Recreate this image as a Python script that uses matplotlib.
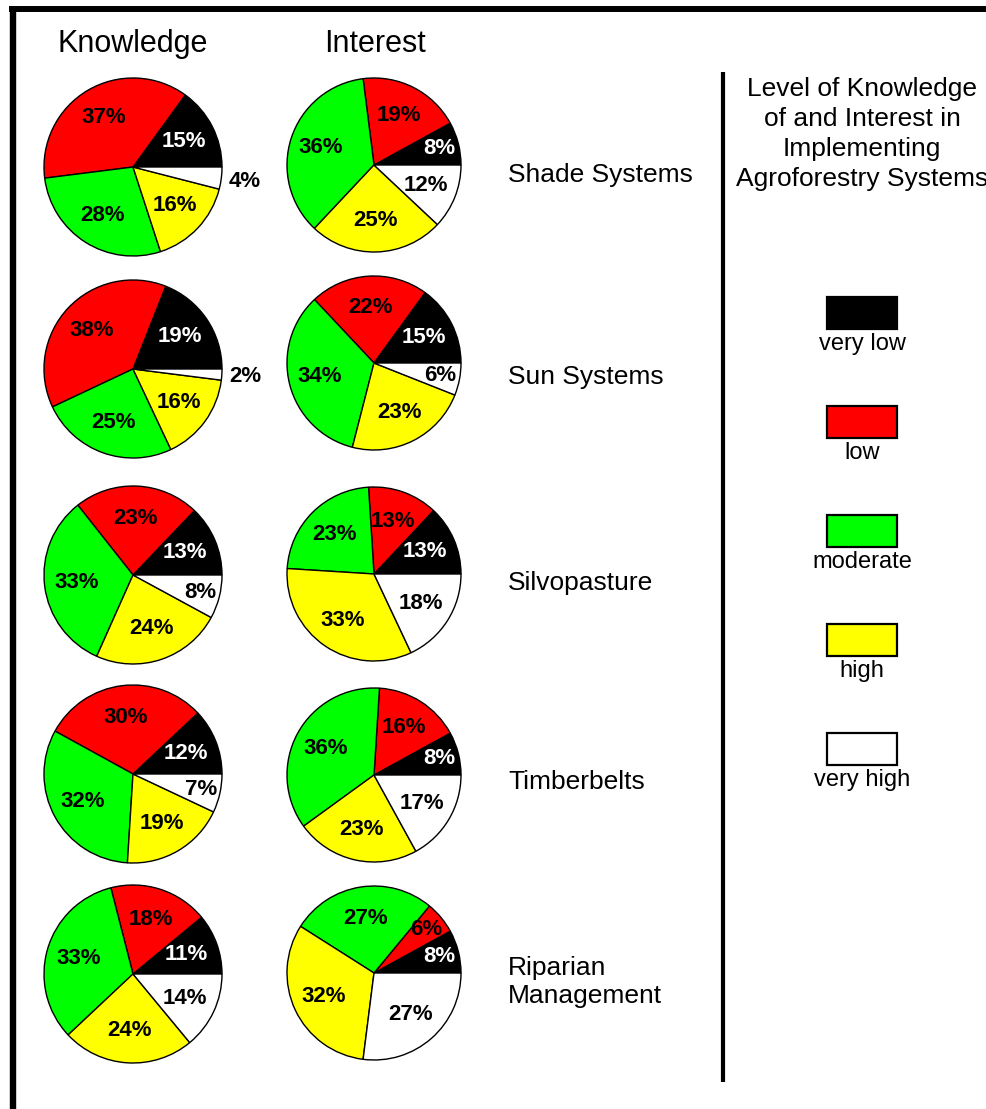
import numpy as np
import matplotlib.pyplot as plt
from matplotlib.patches import Rectangle

plt.rcParams['font.family'] = ['Liberation Sans', 'DejaVu Sans']

# data
levels = ['very low', 'low', 'moderate', 'high', 'very high']
colors = ['#000000', '#ff0000', '#00ff00', '#ffff00', '#ffffff']
systems = ['Shade Systems', 'Sun Systems', 'Silvopasture', 'Timberbelts', 'Riparian\nManagement']

knowledge = [
    [15, 37, 28, 16, 4],
    [19, 38, 25, 16, 2],
    [13, 23, 33, 24, 8],
    [12, 30, 32, 19, 7],
    [11, 18, 33, 24, 14],
]
interest = [
    [8, 19, 36, 25, 12],
    [15, 22, 34, 23, 6],
    [13, 13, 23, 33, 18],
    [8, 16, 36, 23, 17],
    [8, 6, 27, 32, 27],
]

# layout in pixels
W, H = 987, 1109
k_x, i_x = 133, 374
k_y = [167, 369, 575, 774, 974]
i_y = [165, 363, 574, 775, 973]
k_r, i_r = 89, 87

fig = plt.figure(figsize=(W / 100, H / 100), dpi=100)
bg = fig.add_axes([0, 0, 1, 1])
bg.set_xlim(0, W)
bg.set_ylim(H, 0)
bg.axis('off')


def pie_at(vals, cx, cy, r):
    ax = fig.add_axes([(cx - r) / W, 1 - (cy + r) / H, 2 * r / W, 2 * r / H])
    wedges, _ = ax.pie(vals, colors=colors, startangle=0, counterclock=True,
                       wedgeprops=dict(edgecolor='black', linewidth=1.0))
    ax.set_xlim(-1, 1)
    ax.set_ylim(-1, 1)
    for i, (w, v) in enumerate(zip(wedges, vals)):
        ang = np.deg2rad((w.theta1 + w.theta2) / 2)
        if v < 5:
            d = 1.27
        elif v < 10:
            d = 0.78
        else:
            d = 0.64
        col = 'white' if (i == 0 and d < 1) else 'black'
        ax.text(d * np.cos(ang), d * np.sin(ang), f'{v}%', ha='center', va='center',
                fontsize=16, fontweight='bold', color=col)


for row in range(len(systems)):
    pie_at(knowledge[row], k_x, k_y[row], k_r)
    pie_at(interest[row], i_x, i_y[row], i_r)
    lines = systems[row].split('\n')
    base = k_y[row] + 15 - 14.5 * (len(lines) - 1)
    for j, ln in enumerate(lines):
        bg.text(508, base + 29 * j, ln, fontsize=19, ha='left', va='baseline')

# column titles
bg.text(k_x, 52, 'Knowledge', fontsize=22, ha='center', va='baseline')
bg.text(i_x + 1, 52, 'Interest', fontsize=22, ha='center', va='baseline')

# frame and separator
bg.plot([9, W], [8.5, 8.5], color='black', lw=4.3, solid_capstyle='butt')
bg.plot([12.5, 12.5], [5.5, H], color='black', lw=4.6, solid_capstyle='butt')
bg.plot([723, 723], [72, 1082], color='black', lw=3, solid_capstyle='butt')

# legend
title = ['Level of Knowledge', 'of and Interest in', 'Implementing', 'Agroforestry Systems']
for j, ln in enumerate(title):
    bg.text(862, 96 + 30 * j, ln, fontsize=19, ha='center', va='baseline')

for j, (lab, c) in enumerate(zip(levels, colors)):
    top = 297 + 109 * j
    bg.add_patch(Rectangle((827, top), 70, 32, facecolor=c, edgecolor='black', lw=1.6))
    bg.text(862, top + 53, lab, fontsize=17, ha='center', va='baseline')

fig.savefig('out.png', dpi=100)
